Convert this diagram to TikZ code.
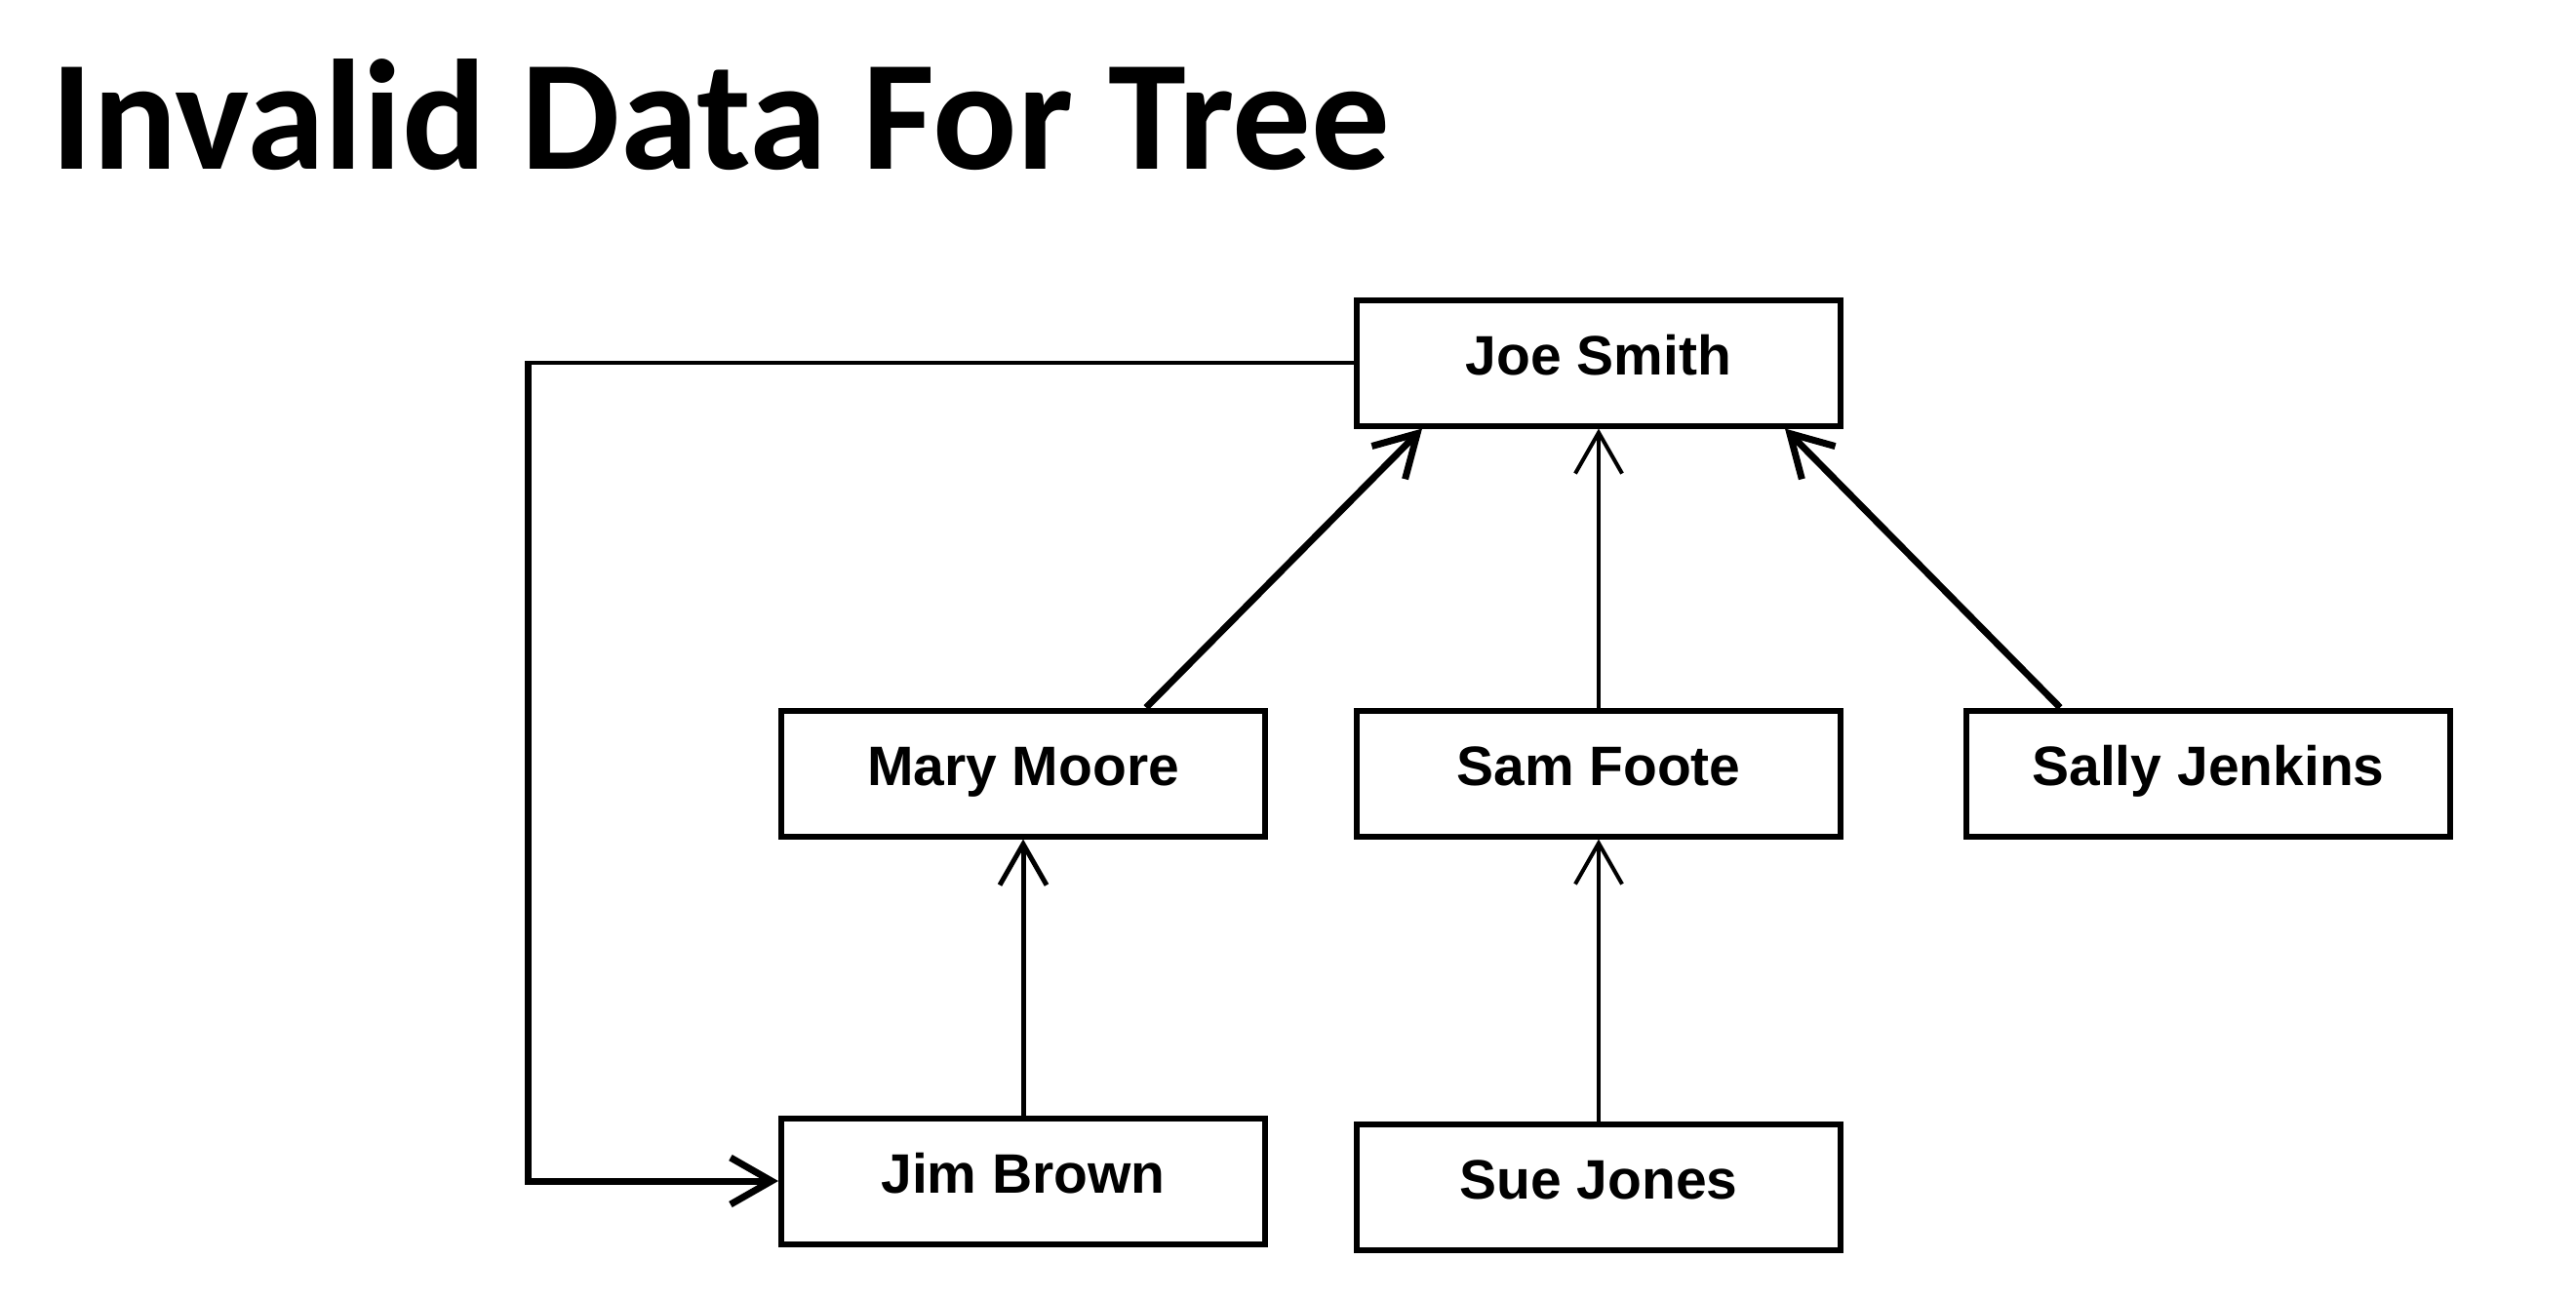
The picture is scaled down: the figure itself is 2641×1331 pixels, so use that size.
\documentclass[tikz,border=0pt]{standalone}
\usepackage{fontspec}
\newfontfamily\titlefam{Carlito}
\newfontfamily\labelfam{Liberation Sans}
\usetikzlibrary{arrows.meta,calc}
\begin{document}
\begin{tikzpicture}[x=1pt,y=-1pt,
  person/.style={draw=black, line width=6pt, rectangle, minimum width=496pt, minimum height=129pt,
    inner sep=0pt, text height=41pt, text depth=17pt,
    font=\labelfam\bfseries\fontsize{57}{60}\selectfont},
  link/.style={line width=#1, -{Straight Barb[length=42pt,width=48pt]}},
  link/.default=4pt,
  plain/.style={line width=#1},
  plain/.default=4pt]
\useasboundingbox (0,0) rectangle (2641,1331);
\fill[white] (0,0) rectangle (2641,1331);

\node[anchor=base west, inner sep=0pt, font=\titlefam\bfseries\fontsize{161}{164}\selectfont]
  (title) at (52,173) {Invalid Data For Tree};

\node[person] (joe)   at (1639,372)  {Joe Smith};
\node[person] (mary)  at (1049,793)  {Mary Moore};
\node[person] (sam)   at (1639,793)  {Sam Foote};
\node[person] (sally) at (2264,793)  {Sally Jenkins};
\node[person] (jim)   at (1049,1211) {Jim Brown};
\node[person] (sue)   at (1639,1217) {Sue Jones};

\draw[link=7pt] ($(mary.north)+(126,0)$) -- ($(joe.south west)+(70,0)$);
\draw[link=4pt] (sam.north) -- (joe.south);
\draw[link=7pt] ($(sally.north)+(-152,0)$) -- ($(joe.south east)+(-60,0)$);
\draw[link=5pt] (jim.north) -- (mary.south);
\draw[link=4pt] (sue.north) -- (sam.south);

\coordinate (bend) at (541,372);
\draw[plain=4pt] (joe.west) -- (bend);
\draw[link=7pt, line join=miter] ($(bend)+(0,-2)$) |- (jim.west);
\end{tikzpicture}
\end{document}
